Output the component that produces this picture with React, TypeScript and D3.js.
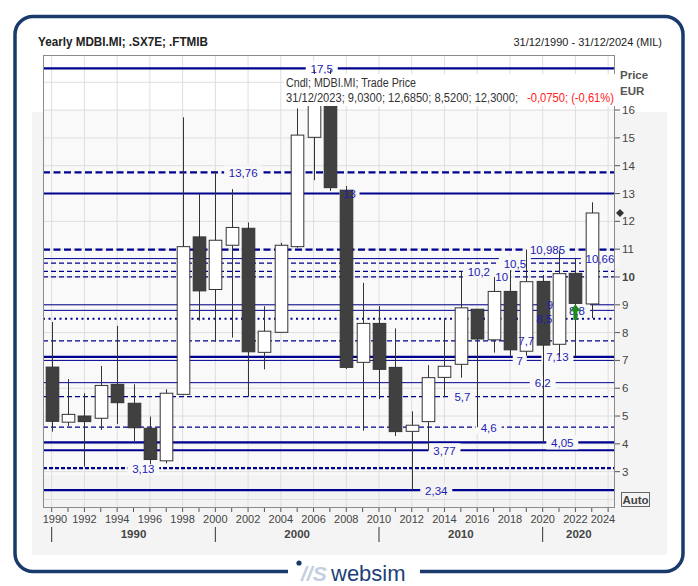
import React from "react";
import * as d3 from "d3";

// ---------- DATA ----------
const years = [1990,1991,1992,1993,1994,1995,1996,1997,1998,1999,2000,2001,2002,2003,2004,2005,2006,2007,2008,2009,2010,2011,2012,2013,2014,2015,2016,2017,2018,2019,2020,2021,2022,2023];
const opens = [6.76,4.78,5.00,4.92,6.14,5.46,4.56,3.39,5.78,11.44,9.55,11.14,11.75,7.29,8.01,11.09,15.02,17.20,13.12,6.93,8.33,6.75,4.45,4.80,6.39,6.86,8.84,7.74,9.48,7.33,9.84,7.58,10.13,9.03];
const highs = [8.38,6.33,5.82,6.80,8.24,6.14,4.98,5.96,15.74,12.98,13.81,13.16,11.96,8.95,11.23,16.06,17.45,17.45,13.27,9.79,8.95,8.15,5.17,6.83,8.51,10.20,8.84,10.00,10.25,10.985,10.07,10.95,10.66,12.685];
const lows = [4.44,4.64,3.18,4.50,4.71,4.10,3.27,3.30,5.75,8.43,7.67,7.82,5.69,6.68,8.01,11.05,13.48,13.09,6.69,4.47,5.61,4.28,2.34,3.77,5.70,6.38,4.60,7.28,7.17,7.17,4.05,7.13,7.15,8.52];
const closes = [4.81,5.06,4.80,6.10,5.48,4.58,3.44,5.82,11.09,9.50,11.32,11.78,7.31,8.05,11.14,15.10,17.20,13.21,6.75,8.33,6.68,4.44,4.67,6.38,6.79,8.89,7.77,9.48,7.38,9.83,7.55,10.12,9.05,12.30];

const levelValues = [17.5,13.76,13,10.985,10.66,10.5,10.2,10,9,8.8,8.5,7.7,7.13,7,6.2,5.7,4.6,4.05,3.77,3.13,2.34];
const levelLabels = ["17,5","13,76","13","10,985","10,66","10,5","10,2","10","9","8,8","8,5","7,7","7,13","7","6,2","5,7","4,6","4,05","3,77","3,13","2,34"];
const levelKinds = ["thick","thickDash","thick","thickDash","thin","thinDash","thinDash","thinDash","thin","thin","dot","thinDash","thick","thin","thin","thinDash","thinDash","thick","thick","shortDash","thick"];
const levelLabelAt = [2006.5,2001.7,2008.2,2020.3,2023.5,2018.3,2016.1,2017.5,2020.45,2022.1,2020.1,2019.0,2020.9,2018.6,2020.0,2015.1,2016.7,2021.2,2014.0,1995.6,2013.5];

const yTicks = [3,4,5,6,7,8,9,10,11,12,13,14,15,16];
const gridValues = [2,3,4,5,6,7,8,9,10,11,12,13,14,15,16,17];
const xLabelYears = [1990,1992,1994,1996,1998,2000,2002,2004,2006,2008,2010,2012,2014,2016,2018,2020,2022,2024];
const xTickYears = d3.range(1990, 2025);
const decades = [1990,2000,2010,2020];

const title = "Yearly MDBI.MI; .SX7E; .FTMIB";
const dateRange = "31/12/1990 - 31/12/2024 (MIL)";
const infoLine1 = "Cndl; MDBI.MI; Trade Price";
const infoLine2 = "31/12/2023; 9,0300; 12,6850; 8,5200; 12,3000;";
const infoChange = "-0,0750; (-0,61%)";
const arrowYear = 2022;
const arrowFrom = 8.45;
const arrowTo = 9.02;
const lastPrice = 12.3;

// ---------- LAYOUT ----------
const W = 698, H = 586;
const L = 43, R = 615, T = 55, B = 507;
const FONT = "'Liberation Sans', Arial, sans-serif";
const NAVY = "#000090";
const LABEL_BLUE = "#1c1cb4";

export default function App() {
  const x = d3.scaleLinear().domain([1989.47, 2024.42]).range([L, R]);
  const y = d3.scaleLinear().domain([1.73, 17.98]).range([B, T]);
  const step = x(1991) - x(1990);
  const bw = step * 0.77;

  const bgAt = (py: number) => (py < 110 ? "#ffffff" : py > 475 ? "#f3f3f3" : "#f9f9f9");

  const lineStyle = (k: string) => {
    switch (k) {
      case "thick": return { w: 2.2, dash: undefined };
      case "thickDash": return { w: 2.2, dash: "7,3.5" };
      case "shortDash": return { w: 2.2, dash: "4,2" };
      case "thin": return { w: 1, dash: undefined };
      case "thinDash": return { w: 1.2, dash: "5,3" };
      case "dot": return { w: 2, dash: "2,3.5" };
      default: return { w: 1, dash: undefined };
    }
  };

  const candles = years.map((yr, i) => ({ yr, o: opens[i], h: highs[i], l: lows[i], c: closes[i] }));
  const ax = x(arrowYear);

  return (
    <svg width={W} height={H} style={{ position: "absolute", left: 0, top: 0 }} fontFamily={FONT}>
      <rect x={0} y={0} width={W} height={H} fill="#ffffff" />
      {/* outer panel */}
      <rect x={32} y={112} width={635} height={443} fill="#f4f4f4" />
      {/* plot background */}
      <rect x={L} y={T} width={R - L} height={B - T} fill="#ffffff" />
      <rect x={L} y={110} width={R - L} height={B - 110} fill="#f9f9f9" />
      <rect x={L} y={475} width={R - L} height={B - 475} fill="#f3f3f3" />

      {/* grid */}
      {gridValues.map((v) => (
        <line key={"gh" + v} x1={L} x2={R} y1={y(v)} y2={y(v)} stroke="#dedede" strokeWidth={1} />
      ))}
      {xLabelYears.map((yr) => (
        <line key={"gv" + yr} x1={x(yr)} x2={x(yr)} y1={T} y2={B} stroke="#dedede" strokeWidth={1} />
      ))}

      {/* levels */}
      {levelValues.map((v, i) => {
        const s = lineStyle(levelKinds[i]);
        return (
          <line key={"lv" + i} x1={L} x2={R} y1={y(v)} y2={y(v)} stroke={NAVY}
            strokeWidth={s.w} strokeDasharray={s.dash} />
        );
      })}
      {/* level label backgrounds */}
      {levelValues.map((v, i) => {
        const tw = levelLabels[i].length * 6 + 8;
        return (
          <rect key={"lb" + i} x={x(levelLabelAt[i]) - tw / 2} y={y(v) - 7} width={tw} height={14} fill={bgAt(y(v))} />
        );
      })}

      {/* candles */}
      {candles.map((d) => {
        const cx = Math.round(x(d.yr)) + 0.5;
        const up = d.c >= d.o;
        const top = y(Math.max(d.o, d.c));
        const bot = y(Math.min(d.o, d.c));
        return (
          <g key={"c" + d.yr}>
            <line x1={cx} x2={cx} y1={y(d.h)} y2={y(d.l)} stroke="#333" strokeWidth={1} />
            <rect x={cx - bw / 2} y={top} width={bw} height={Math.max(1, bot - top)}
              fill={up ? "#ffffff" : "#404040"} stroke="#333" strokeWidth={1} />
          </g>
        );
      })}

      {/* level label texts */}
      {levelValues.map((v, i) => (
        <text key={"lt" + i} x={x(levelLabelAt[i])} y={y(v) + 4.5} textAnchor="middle" fontSize={11.5} fill={LABEL_BLUE}>
          {levelLabels[i]}
        </text>
      ))}

      {/* green arrow */}
      <path
        d={`M${ax},${y(arrowTo)} L${ax + 5.5},${y(arrowTo) + 7} L${ax + 2},${y(arrowTo) + 7} L${ax + 2},${y(arrowFrom)} L${ax - 2},${y(arrowFrom)} L${ax - 2},${y(arrowTo) + 7} L${ax - 5.5},${y(arrowTo) + 7} Z`}
        fill="#1f8a1f"
      />

      {/* plot border */}
      <rect x={L + 0.5} y={T + 0.5} width={R - L - 1} height={B - T} fill="none" stroke="#8c8c8c" strokeWidth={1} />

      {/* info box */}
      <rect x={284} y={74} width={332} height={32} fill="#ffffff" />
      <text x={286} y={87} fontSize={12} fill="#333" textLength={130} lengthAdjust="spacingAndGlyphs">{infoLine1}</text>
      <text x={286} y={102} fontSize={12} fill="#333" textLength={232} lengthAdjust="spacingAndGlyphs">{infoLine2}</text>
      <text x={527} y={102} fontSize={12} fill="#ff2020" textLength={87} lengthAdjust="spacingAndGlyphs">{infoChange}</text>

      {/* y axis */}
      {yTicks.map((v) => (
        <g key={"yt" + v}>
          <line x1={R} x2={R + 5} y1={y(v)} y2={y(v)} stroke="#555" />
          <text x={R + 7} y={y(v) + 4} fontSize={11.5} fill="#444" fontWeight={v === 10 ? "bold" : "normal"}>{v}</text>
        </g>
      ))}
      <text x={620} y={79} fontSize={11.5} fontWeight="bold" fill="#555">Price</text>
      <text x={620} y={95} fontSize={11.5} fontWeight="bold" fill="#555">EUR</text>
      <rect x={621.5} y={492.5} width={28} height={14} fill="#f4f4f4" stroke="#666" />
      <text x={635.5} y={503.5} textAnchor="middle" fontSize={11.5} fontWeight="bold" fill="#444">Auto</text>
      <path d={`M${620},${y(lastPrice) - 4} L${624},${y(lastPrice)} L${620},${y(lastPrice) + 4} L${616},${y(lastPrice)} Z`} fill="#333" />

      {/* x axis */}
      {xTickYears.map((yr) => (
        <line key={"xt" + yr} x1={x(yr)} x2={x(yr)} y1={B + 1} y2={B + 5} stroke="#555" />
      ))}
      {xLabelYears.map((yr) => (
        <text key={"xl" + yr} x={Math.min(Math.max(x(yr), L + 12), R - 12)} y={523} textAnchor="middle" fontSize={11} fill="#444">
          {yr}
        </text>
      ))}
      {decades.map((dc, i) => {
        const x0 = x(dc);
        const x1 = i < decades.length - 1 ? x(decades[i + 1]) : R;
        return (
          <g key={"dc" + dc}>
            <line x1={x0} x2={x0} y1={527} y2={542} stroke="#333" strokeWidth={1} />
            <text x={(x0 + x1) / 2} y={538} textAnchor="middle" fontSize={11.5} fontWeight="bold" fill="#444">{dc}</text>
          </g>
        );
      })}

      {/* header */}
      <text x={38} y={46} fontSize={12} fontWeight="bold" fill="#222" textLength={170} lengthAdjust="spacingAndGlyphs">{title}</text>
      <text x={662} y={46} textAnchor="end" fontSize={11} fill="#222">{dateRange}</text>

      {/* frame */}
      <rect x={15} y={16.5} width={668} height={555} rx={18} ry={18} fill="none" stroke="#1a3a6c" strokeWidth={3.5} />
      <rect x={288} y={560} width={132} height={26} fill="#ffffff" />
      <circle cx={299} cy={563} r={2.6} fill="#1a3a6c" />
      <text x={301} y={581} fontSize={21} fontStyle="italic" fontWeight="bold" fill="#c3cfe0">//S</text>
      <text x={331} y={581} fontSize={22} fill="#1c3f77">websim</text>
    </svg>
  );
}
